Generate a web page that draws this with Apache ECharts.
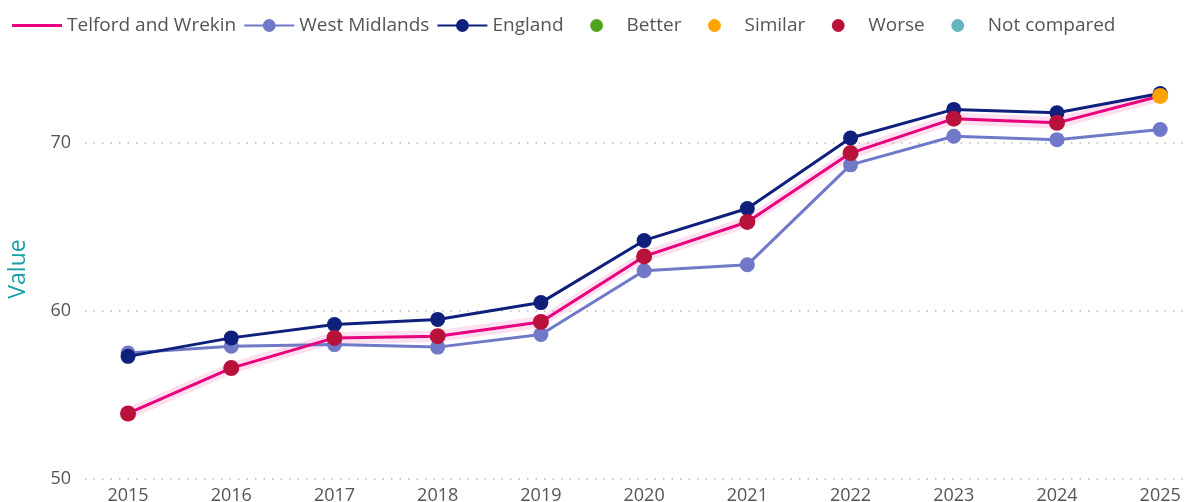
<!DOCTYPE html>
<html>
<head>
<meta charset="utf-8">
<script src="https://cdn.jsdelivr.net/npm/echarts@6/dist/echarts.min.js"></script>
<style>
    html, body { margin: 0; padding: 0; background: #fff; }
    #chart { width: 1186px; height: 502px; }
</style>
</head>
<body>
<div id="chart"></div>
<script>
var years = [2015, 2016, 2017, 2018, 2019, 2020, 2021, 2022, 2023, 2024, 2025];
var telford = [53.9, 56.6, 58.4, 58.5, 59.35, 63.25, 65.3, 69.4, 71.45, 71.2, 72.8];
var telfordLower = [53.5, 56.25, 58.05, 58.15, 59.0, 62.9, 64.95, 69.05, 71.1, 70.85, 72.45];
var telfordUpper = [54.25, 56.95, 58.75, 58.85, 59.7, 63.6, 65.65, 69.75, 71.8, 71.55, 73.15];
var westMidlands = [57.5, 57.9, 58.0, 57.85, 58.6, 62.4, 62.75, 68.7, 70.4, 70.2, 70.8];
var england = [57.3, 58.4, 59.2, 59.5, 60.5, 64.2, 66.1, 70.3, 72.0, 71.8, 72.95];
var comparison = ['Worse', 'Worse', 'Worse', 'Worse', 'Worse', 'Worse', 'Worse', 'Worse', 'Worse', 'Worse', 'Similar'];
var yTicks = [50, 60, 70];

var compColors = {
    'Better': '#4fa21e',
    'Similar': '#ffa300',
    'Worse': '#b8123a',
    'Not compared': '#62b4bd'
};

function pairs(vals) {
    return vals.map(function (v, i) { return [years[i], v]; });
}

var font = "'Open Sans', 'Noto Sans', sans-serif";
var chart = echarts.init(document.getElementById('chart'));

var series = [
    {
        // confidence band for Telford, one quad per segment
        name: 'ci-band',
        type: 'custom',
        silent: true,
        data: years.slice(0, -1).map(function (y, i) { return [i]; }),
        renderItem: function (params, api) {
            var i = api.value(0);
            var pts = [
                api.coord([years[i], telfordLower[i]]),
                api.coord([years[i + 1], telfordLower[i + 1]]),
                api.coord([years[i + 1], telfordUpper[i + 1]]),
                api.coord([years[i], telfordUpper[i]])
            ];
            return {
                type: 'polygon',
                shape: { points: pts },
                style: { fill: 'rgba(230,0,126,0.12)' }
            };
        },
        z: 1
    },
    {
        name: 'West Midlands',
        type: 'line',
        symbol: 'circle',
        symbolSize: 15,
        color: '#7078c8',
        lineStyle: { width: 3 },
        data: pairs(westMidlands),
        z: 2
    },
    {
        name: 'Telford and Wrekin',
        type: 'line',
        symbol: 'none',
        color: '#e8007f',
        lineStyle: { width: 3 },
        data: pairs(telford),
        z: 3
    },
    {
        name: 'England',
        type: 'line',
        symbol: 'circle',
        symbolSize: 15,
        color: '#0f1f7c',
        lineStyle: { width: 3 },
        data: pairs(england),
        z: 4
    },
    {
        name: 'telford-points',
        type: 'scatter',
        symbolSize: 16,
        data: telford.map(function (v, i) {
            return { value: [years[i], v], itemStyle: { color: compColors[comparison[i]], opacity: 1 } };
        }),
        z: 5
    }
];

// legend-only entries for the comparison colours (line type so the dot sits centred)
Object.keys(compColors).forEach(function (k) {
    series.push({
        name: k,
        type: 'line',
        symbol: 'circle',
        symbolSize: 18,
        color: compColors[k],
        lineStyle: { opacity: 0 },
        data: []
    });
});

var legendItems = [
    { name: 'Telford and Wrekin', icon: 'path://M0,0 L50,0 L50,3 L0,3 Z' },
    { name: 'West Midlands' },
    { name: 'England' }
].concat(Object.keys(compColors).map(function (k) {
    return { name: k };
}));

chart.setOption({
    animation: false,
    textStyle: { fontFamily: font },
    legend: {
        left: 7,
        top: 11,
        itemWidth: 50,
        itemHeight: 16,
        itemGap: 7,
        textStyle: { fontSize: 19, color: '#555', fontFamily: font },
        data: legendItems
    },
    grid: { left: 85, right: 0, top: 59, bottom: 23, outerBoundsMode: 'none' },
    xAxis: {
        type: 'value',
        min: 2014.583,
        max: 2025.25,
        axisLine: { show: false },
        axisTick: { show: false },
        splitLine: { show: false },
        axisLabel: {
            customValues: years,
            color: '#555',
            fontSize: 18,
            margin: 8,
            formatter: function (v) { return String(v); }
        }
    },
    yAxis: {
        type: 'value',
        min: 50,
        max: 75,
        interval: 10,
        name: 'Value',
        nameLocation: 'middle',
        nameGap: 55,
        nameTextStyle: { color: '#1a9ea6', fontSize: 23, fontFamily: font },
        axisLine: { show: false },
        axisTick: { show: false },
        axisLabel: {
            color: '#555',
            fontSize: 18,
            margin: 14,
            customValues: yTicks
        },
        splitLine: {
            showMaxLine: false,
            lineStyle: { color: '#bbb', type: [1.5, 7], width: 1.5 }
        }
    },
    series: series
});
</script>
</body>
</html>
